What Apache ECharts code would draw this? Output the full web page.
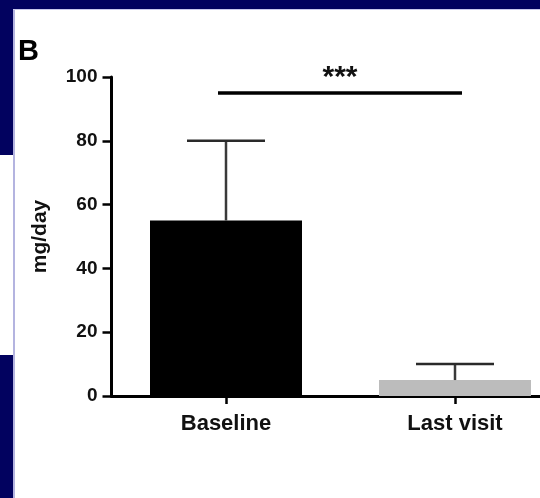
<!DOCTYPE html>
<html>
<head>
<meta charset="utf-8">
<script src="https://cdn.jsdelivr.net/npm/echarts@6/dist/echarts.min.js"></script>
<style>
html,body{margin:0;padding:0;background:#fff;}
#c{width:540px;height:498px;}
</style>
</head>
<body>
<div id="c"></div>
<script>
var categories = ['Baseline', 'Last visit'];
var means = [55, 5];
var upperError = [80, 10];
var barColors = ['#000000', '#bcbcbc'];
var yTicks = [0, 20, 40, 60, 80, 100];
var sigLevel = 95;
var sigText = '***';

var FONT = '"Liberation Sans", Arial, Helvetica, sans-serif';
var chart = echarts.init(document.getElementById('c'), null, {renderer: 'canvas'});

var option = {
  animation: false,
  backgroundColor: '#ffffff',
  graphic: [
    {type: 'rect', shape: {x: 0, y: 0, width: 540, height: 9}, style: {fill: '#02025f'}, z: 100},
    {type: 'rect', shape: {x: 0, y: 0, width: 13, height: 155}, style: {fill: '#02025f'}, z: 100},
    {type: 'rect', shape: {x: 0, y: 355, width: 13, height: 143}, style: {fill: '#02025f'}, z: 100},
    {type: 'rect', shape: {x: 13, y: 9, width: 2, height: 489}, style: {fill: '#b4b4e0'}, z: 100},
    {type: 'rect', shape: {x: 13, y: 9, width: 527, height: 1}, style: {fill: '#c8c8ec'}, z: 100},
    {type: 'text', left: 18, top: 37, style: {text: 'B', font: 'bold 29px ' + FONT, fill: '#000'}, z: 100}
  ],
  grid: {left: 111.5, top: 77, width: 458, height: 319, containLabel: false, outerBoundsMode: 'none'},
  xAxis: {
    type: 'category',
    data: categories,
    axisLine: {lineStyle: {color: '#000', width: 3}},
    axisTick: {show: true, alignWithLabel: true, length: 8, lineStyle: {color: '#000', width: 2.5}},
    axisLabel: {margin: 17, color: '#111', fontSize: 22, fontWeight: 'bold', fontFamily: FONT},
    splitLine: {show: false}
  },
  yAxis: {
    type: 'value',
    min: 0, max: 100, interval: 20,
    name: 'mg/day',
    nameLocation: 'middle',
    nameGap: 61,
    nameRotate: 90,
    nameTextStyle: {color: '#111', fontSize: 21, fontWeight: 'bold', fontFamily: FONT},
    axisLine: {show: true, lineStyle: {color: '#000', width: 3}},
    axisTick: {show: true, length: 9, lineStyle: {color: '#000', width: 2.5}},
    axisLabel: {margin: 14, color: '#111', fontSize: 19, fontWeight: 'bold', fontFamily: FONT,
      formatter: function (v) { return yTicks.indexOf(v) >= 0 ? String(v) : ''; }},
    splitLine: {show: false}
  },
  series: [
    {
      type: 'bar',
      barWidth: 152,
      data: means.map(function (v, i) { return {value: v, itemStyle: {color: barColors[i]}}; }),
      z: 2
    },
    {
      type: 'custom',
      z: 3,
      data: categories.map(function (c, i) { return [i, means[i], upperError[i]]; }),
      renderItem: function (params, api) {
        var top = api.coord([api.value(0), api.value(2)]);
        var base = api.coord([api.value(0), api.value(1)]);
        var half = 39;
        return {
          type: 'group',
          children: [
            {type: 'line', shape: {x1: top[0], y1: top[1], x2: base[0], y2: base[1]}, style: {stroke: '#3a3a3a', lineWidth: 2.5}},
            {type: 'line', shape: {x1: top[0] - half, y1: top[1], x2: top[0] + half, y2: top[1]}, style: {stroke: '#2a2a2a', lineWidth: 2.5}}
          ]
        };
      }
    },
    {
      type: 'custom',
      z: 3,
      data: [[0, 1, sigLevel]],
      renderItem: function (params, api) {
        var a = api.coord([api.value(0), api.value(2)]);
        var b = api.coord([api.value(1), api.value(2)]);
        var x1 = a[0] - 8, x2 = b[0] + 7;
        return {
          type: 'group',
          children: [
            {type: 'line', shape: {x1: x1, y1: a[1], x2: x2, y2: a[1]}, style: {stroke: '#000', lineWidth: 3.5}},
            {type: 'text', style: {text: sigText, x: (x1 + x2) / 2, y: a[1] - 15, align: 'center', verticalAlign: 'middle', font: 'bold 30px ' + FONT, fill: '#111'}}
          ]
        };
      }
    }
  ]
};
chart.setOption(option);
</script>
</body>
</html>
